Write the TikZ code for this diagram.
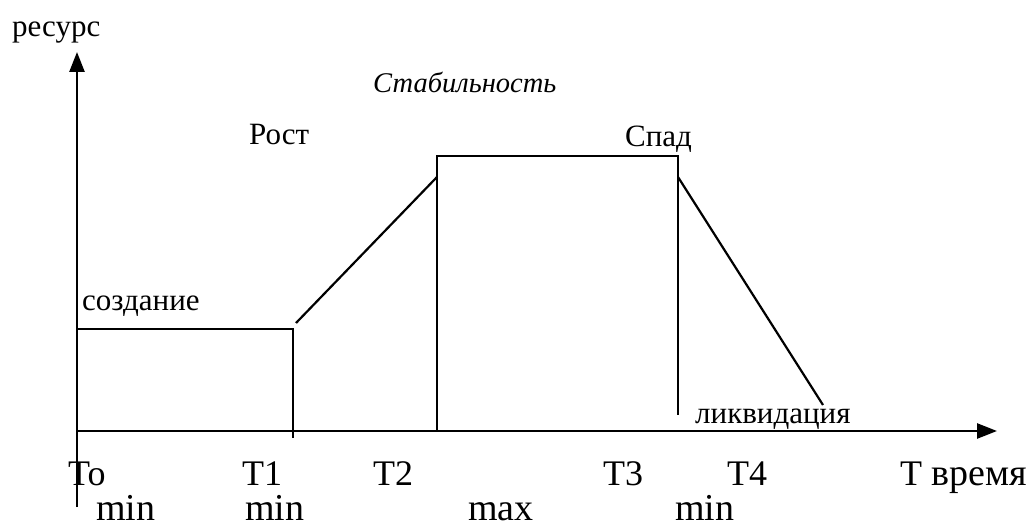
\documentclass[tikz,border=0pt]{standalone}
\usepackage{fontspec}
\setmainfont{Liberation Serif}
\usetikzlibrary{arrows.meta}
\tikzset{
  line/.style={line width=2.2pt},
  axis/.style={line width=2.6pt,-{Triangle[length=20pt,width=15pt]}},
  lbl/.style={inner sep=0pt,anchor=base west,font=\fontsize{31}{34}\selectfont},
  tlbl/.style={inner sep=0pt,anchor=base west,font=\fontsize{36}{38}\selectfont},
  big/.style={inner sep=0pt,anchor=base west,text depth=0pt,font=\fontsize{38}{40}\selectfont},
}
\begin{document}
\begin{tikzpicture}[x=1pt,y={(0pt,-1pt)}]
\useasboundingbox (0,0) rectangle (1030,529);
% axes
\coordinate (O) at (77,431);
\coordinate (ytop) at (77,52);
\coordinate (ybot) at (77,507);
\coordinate (xend) at (997,431);
\draw[axis] (ybot) -- (ytop);
\draw[axis] (O) -- (xend);
% creation
\draw[line] (77,329) -- (293,329) -- (293,438);
% growth
\draw[line] (296,323) -- (437,177);
% stability
\draw[line] (437,431) -- (437,156) -- (678,156) -- (678,415);
% decline
\draw[line] (678,177) -- (823,405);
% labels
\node[lbl] (res) at (12,37) {ресурс};
\node[lbl,font=\fontsize{28.5}{30}\selectfont\itshape] (stab) at (373,93) {Стабильность};
\node[lbl] (rost) at (249,145) {Рост};
\node[lbl] (spad) at (625,147) {Спад};
\node[lbl] (sozd) at (82,310) {создание};
\node[lbl] (likv) at (695,423) {ликвидация};
\node[tlbl] (t0) at (68,485) {To};
\node[tlbl] (t1) at (242,485) {T1};
\node[tlbl] (t2) at (373,485) {T2};
\node[tlbl] (t3) at (603,485) {T3};
\node[tlbl] (t4) at (727,485) {T4};
\node[tlbl] (tt) at (900,485) {T \fontsize{38}{40}\selectfont время};
\node[big] (m0) at (96,520) {min};
\node[big] (m1) at (245,520) {min};
\node[big] (mx) at (468,520) {max};
\node[big] (m3) at (675,520) {min};
\end{tikzpicture}
\end{document}
